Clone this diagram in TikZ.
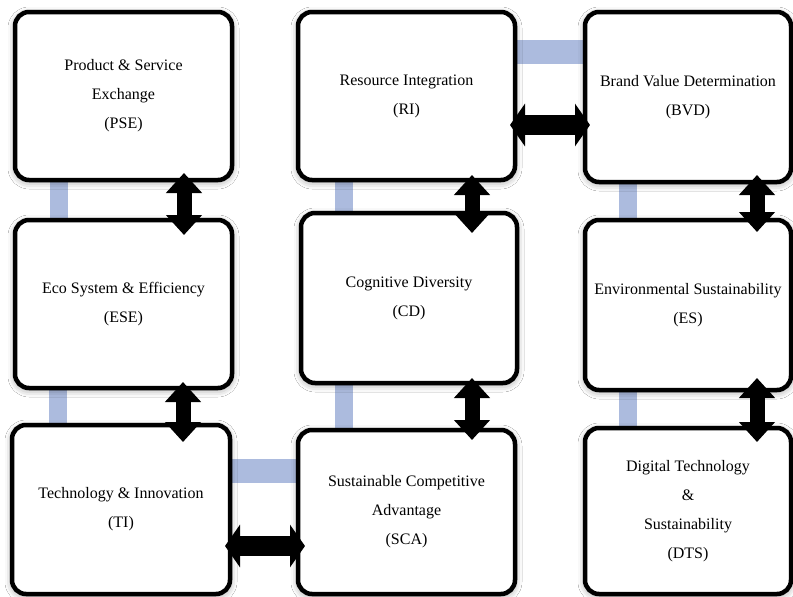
\documentclass[tikz,border=0pt]{standalone}
\usepackage{fontspec}
\setmainfont{Liberation Serif}
\usetikzlibrary{arrows.meta,shadows.blur,backgrounds}
\definecolor{barblue}{RGB}{172,187,222}
\begin{document}
\begin{tikzpicture}[x=1pt,y=-1pt,
  box/.style={draw=black, line width=4.5pt, rounded corners=14pt, fill=white,
    align=center, font=\fontsize{16}{29}\selectfont, inner sep=0pt, outer sep=0pt,
    blur shadow={shadow xshift=0pt, shadow yshift=-2pt, shadow blur radius=7pt, shadow opacity=40}},
  bar/.style={draw=barblue, line width=18pt},
  hbar/.style={draw=barblue, line width=24pt},
  varrow/.style={line width=15pt, {Triangle[length=20pt,width=35pt]}-{Triangle[length=20pt,width=35pt]}},
  harrow/.style={line width=20pt, {Triangle[length=15pt,width=42pt]}-{Triangle[length=15pt,width=42pt]}}]
\useasboundingbox (0,0) rectangle (793,597);

% boxes
\node[box, minimum width=217pt, minimum height=168pt] (PSE) at (123.5,96) {Product \& Service\\Exchange\\(PSE)};
\node[box, minimum width=217pt, minimum height=168pt] (RI) at (406.5,96) {Resource Integration\\(RI)};
\node[box, minimum width=206pt, minimum height=170pt] (BVD) at (688,97) {Brand Value Determination\\(BVD)};
\node[box, minimum width=217pt, minimum height=168pt] (ESE) at (123.5,304) {Eco System \& Efficiency\\(ESE)};
\node[box, minimum width=216pt, minimum height=170pt] (CD) at (409,298) {Cognitive Diversity\\(CD)};
\node[box, minimum width=206pt, minimum height=170pt] (ES) at (688,305) {Environmental Sustainability\\(ES)};
\node[box, minimum width=218pt, minimum height=169pt] (TI) at (121,509.5) {Technology \& Innovation\\(TI)};
\node[box, minimum width=217pt, minimum height=164pt] (SCA) at (406.5,512) {Sustainable Competitive\\Advantage\\(SCA)};
\node[box, minimum width=206pt, minimum height=166pt] (DTS) at (688,511) {Digital Technology\\\&\\Sustainability\\(DTS)};

% light blue bars behind the boxes
\begin{scope}[on background layer]
\fill[white] (0,0) rectangle (793,597);
\draw[bar] ([xshift=43.5pt]PSE.south west) -- ([xshift=43.5pt]ESE.north west);
\draw[bar] ([xshift=42.5pt]ESE.south west) -- ([xshift=45.5pt]TI.north west);
\draw[bar] ([xshift=46pt]RI.south west) -- ([xshift=43pt]CD.north west);
\draw[bar] ([xshift=43pt]CD.south west) -- ([xshift=46pt]SCA.north west);
\draw[bar] ([xshift=42.5pt]BVD.south west) -- ([xshift=42.5pt]ES.north west);
\draw[bar] ([xshift=42.5pt]ES.south west) -- ([xshift=42.5pt]DTS.north west);
\draw[hbar] ([yshift=-39.5pt]RI.north east) -- ([yshift=-39.5pt]BVD.north west);
\draw[hbar] ([yshift=-45.5pt]TI.north east) -- ([yshift=-40.5pt]SCA.north west);
\end{scope}

% black double arrows
\draw[varrow] ([xshift=-48pt,yshift=7pt]PSE.south east) -- ([xshift=-48pt,yshift=-15pt]ESE.north east);
\draw[varrow] ([xshift=-49pt,yshift=6pt]ESE.south east) -- ([xshift=-47pt,yshift=-17pt]TI.north east);
\draw[varrow] ([xshift=-43pt,yshift=5pt]RI.south east) -- ([xshift=-45pt,yshift=-20pt]CD.north east);
\draw[varrow] ([xshift=-45pt,yshift=5pt]CD.south east) -- ([xshift=-43pt,yshift=-10pt]SCA.north east);
\draw[varrow] ([xshift=-34pt,yshift=7pt]BVD.south east) -- ([xshift=-34pt,yshift=-12pt]ES.north east);
\draw[varrow] ([xshift=-34pt,yshift=12pt]ES.south east) -- ([xshift=-34pt,yshift=-14pt]DTS.north east);
\draw[harrow] ([xshift=-5pt,yshift=-29pt]RI.east) -- ([xshift=5pt,yshift=-28pt]BVD.west);
\draw[harrow] ([xshift=-5pt,yshift=-36.5pt]TI.east) -- ([xshift=7pt,yshift=-34pt]SCA.west);
\end{tikzpicture}
\end{document}
